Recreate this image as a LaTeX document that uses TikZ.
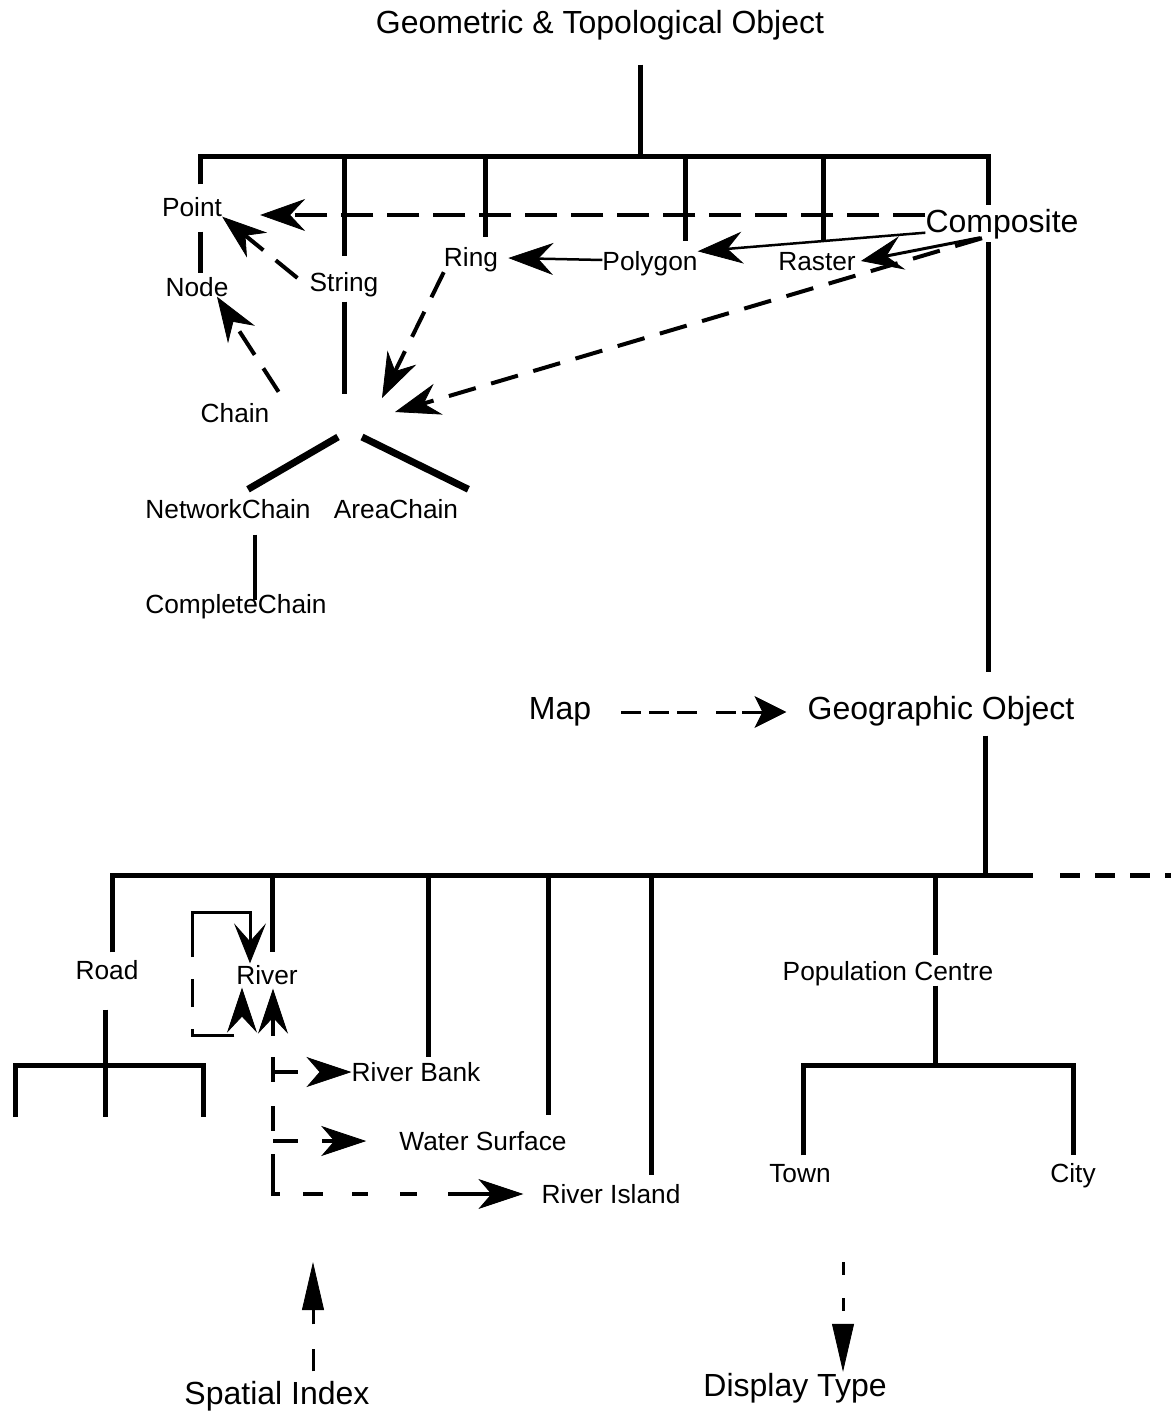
\documentclass[tikz,border=0pt]{standalone}
\usepackage{fontspec}
\setmainfont{Liberation Sans}
\usepackage{tikz}
\usetikzlibrary{arrows.meta, positioning}

\begin{document}
\begin{tikzpicture}[x=1pt, y=-1pt,
    cls/.style={inner sep=0pt, text height=19pt, text depth=0pt, font=\fontsize{26.3}{30}\selectfont},
    bigcls/.style={inner sep=0pt, text height=23pt, text depth=0pt, font=\fontsize{32}{38}\selectfont},
    tree/.style={line width=5pt},
    barb/.tip={Stealth[length=45pt, width=32pt, inset=15pt, line width=0.8pt]},
    dashlink/.style={line width=4pt, dash pattern=on 28pt off 16pt, -barb},
    solidlink/.style={line width=2.5pt, -barb},
    riverlink/.style={line width=3.5pt, dash pattern=on 25pt off 24pt, -{Stealth[length=45pt, width=30pt, inset=13pt, line width=0.8pt]}},
    pointer/.style={line width=3pt, -{Triangle[length=48pt, width=22pt, line width=0.8pt]}}]

  \useasboundingbox (0,0) rectangle (1171,1412);

  % classes
  \node[bigcls] (geotopo) at (600,22) {Geometric \& Topological Object};
  \node[cls] (point) at (192,207) {Point};
  \node[cls] (nodec) at (197,287) {Node};
  \node[cls] (string) at (344,282) {String};
  \node[cls] (ring) at (471,257) {Ring};
  \node[cls] (polygon) at (650,261) {Polygon};
  \node[cls] (raster) at (817,261) {Raster};
  \node[bigcls] (composite) at (1002,221) {Composite};
  \node[cls] (chain) at (235,413) {Chain};
  \node[cls] (netchain) at (228,509) {NetworkChain};
  \node[cls] (areachain) at (396,509) {AreaChain};
  \node[cls] (cchain) at (236,604) {CompleteChain};
  \node[bigcls] (map) at (560,708) {Map};
  \node[bigcls] (geoobj) at (941,708) {Geographic Object};
  \node[cls] (road) at (107,970) {Road};
  \node[cls] (river) at (267,975) {River};
  \node[cls] (bank) at (416,1072) {River Bank};
  \node[cls] (water) at (483,1141) {Water Surface};
  \node[cls] (island) at (611,1194) {River Island};
  \node[cls] (popcentre) at (888,971) {Population Centre};
  \node[cls] (town) at (800,1173) {Town};
  \node[cls] (city) at (1073,1173) {City};
  \node[bigcls] (spindex) at (277,1393) {Spatial Index};
  \node[bigcls] (disptype) at (795,1385) {Display Type};

  \coordinate (topbar) at (640,157);
  \coordinate (junction) at (350,437);
  \coordinate (geobar) at (985,875);
  \coordinate (popbar) at (935,1065);
  \coordinate (sifree) at (313,1262);
  \coordinate (dtfree) at (843,1262);

  % geometric tree
  \draw[tree, shorten <=31pt] (geotopo.south -| topbar) -- (topbar);
  \draw[tree] ([xshift=8pt,yshift=13pt]point.north) |- (988,157) -- ([xshift=-14pt,yshift=4.5pt]composite.north);
  \draw[tree] (string.north |- topbar) -- ([yshift=16pt]string.north);
  \draw[tree] ([xshift=14pt]ring.north |- topbar) -- ([xshift=14pt,yshift=10pt]ring.north);
  \draw[tree] ([xshift=35pt]polygon.north |- topbar) -- ([xshift=35pt,yshift=10pt]polygon.north);
  \draw[tree] ([xshift=6pt]raster.north |- topbar) -- ([xshift=6pt,yshift=11.5pt]raster.north);
  \draw[tree] ([xshift=8pt,yshift=-15pt]point.south) -- ([xshift=3pt,yshift=4pt]nodec.north);
  \draw[tree] ([yshift=-10pt]string.south) -- ++(0,92);
  \draw[tree] ([xshift=-14pt,yshift=-9.5pt]composite.south) -- ([xshift=47pt,yshift=24pt]geoobj.north);

  % chains
  \draw[line width=7pt] ([xshift=-12pt]junction) -- ([xshift=20pt,yshift=10pt]netchain.north);
  \draw[line width=7pt] ([xshift=12pt]junction) -- ([xshift=10pt,yshift=10pt]areachain.north east);
  \draw[line width=4pt] ([xshift=27pt,yshift=-16pt]netchain.south) -- ([xshift=19pt,yshift=4pt]cchain.center);

  % references
  \draw[dashlink, dash pattern=on 32pt off 14pt] ([yshift=6pt]composite.west) -- ([xshift=38pt,yshift=-8pt]point.east);
  \draw[dashlink] ([xshift=-12pt,yshift=4pt]string.west) -- (point.south east);
  \draw[dashlink] ([xshift=9pt,yshift=11.5pt]chain.north east) -- ([xshift=20pt]nodec.south);
  \draw[dashlink] ([yshift=-5.5pt]ring.south west) -- ([xshift=32pt,yshift=39pt]junction);
  \draw[dashlink] ([xshift=-20pt,yshift=-5.5pt]composite.south) -- ([xshift=45pt,yshift=25pt]junction);
  \draw[solidlink] ([yshift=1pt]polygon.west) -- ([xshift=10pt,yshift=-1pt]ring.east);
  \draw[solidlink] (composite.south west) -- (polygon.north east);
  \draw[line width=3pt, -{Stealth[length=42pt, width=34pt, inset=16pt, line width=0.8pt]}] ([xshift=-22pt,yshift=-5pt]composite.south) -- ([xshift=5pt]raster.east);

  % map
  \draw[line width=3pt, dash pattern=on 20pt off 8pt on 20pt off 8pt on 20pt off 19pt on 20pt off 6pt on 40pt,
    shorten <=30pt, shorten >=21pt,
    -{Stealth[length=32pt, width=32pt, inset=8pt, line width=0.8pt]}] ([yshift=-4pt]map.east) -- ([yshift=-4pt]geoobj.west);

  % geographic tree
  \draw[tree] ([xshift=44pt,yshift=-16pt]geoobj.south) -- (geobar);
  \draw[tree] ([xshift=5pt,yshift=8pt]road.north) |- (1033,875);
  \draw[tree, dash pattern=on 20pt off 15pt] (1060,875) -- (1171,875);
  \draw[tree] ([xshift=5pt]river.north |- geobar) -- ([xshift=5pt,yshift=13pt]river.north);
  \draw[tree] ([xshift=12pt]bank.north |- geobar) -- ([xshift=12pt,yshift=5pt]bank.north);
  \draw[tree] ([xshift=65pt]water.north |- geobar) -- ([xshift=65pt,yshift=16.5pt]water.north);
  \draw[tree] ([xshift=40pt]island.north |- geobar) -- ([xshift=40pt,yshift=9.5pt]island.north);
  \draw[tree] ([xshift=47pt]popcentre.north |- geobar) -- ([xshift=47pt,yshift=6.5pt]popcentre.north);
  \draw[tree] ([xshift=-2pt,yshift=-30pt]road.south) -- (105,1117);
  \draw[tree] (15,1117) |- (203,1065) -- (203,1117);
  \draw[tree] ([xshift=47pt,yshift=-5pt]popcentre.south) -- (popbar);
  \draw[tree] ([xshift=3pt,yshift=8pt]town.north) |- (city.north |- popbar) -- ([yshift=8pt]city.north);

  % river parts
  \draw[line width=3pt, dash pattern=on 0pt off 27pt on 49pt off 22pt on 28pt off 22pt on 200pt,
    {Stealth[length=45pt, width=30pt, inset=16pt, line width=0.8pt]}-{Stealth[length=40pt, width=32pt, inset=18pt, line width=0.8pt]}]
    ([xshift=-25pt,yshift=-3pt]river.south) -- ++(0,48) -| ++(-50,-123) -| ([xshift=-17pt,yshift=2pt]river.north);
  \draw[riverlink, {Stealth[length=45pt, width=30pt, inset=16pt, line width=0.8pt]}-{Stealth[length=45pt, width=30pt, inset=13pt, line width=0.8pt]},
    dash pattern=on 19pt off 21pt on 25pt off 24pt on 25pt off 23pt on 47pt off 23pt on 20pt off 29pt on 16pt off 32pt on 17pt off 31pt on 60pt]
    ([xshift=6pt,yshift=-4pt]river.south) |- ([xshift=-18pt]island.west);
  \draw[riverlink] ([xshift=6pt]river.south |- bank.west) -- (bank.west);
  \draw[riverlink] ([xshift=6pt]river.south |- water.west) -- ([xshift=-33pt]water.west);

  % index and display
  \draw[pointer, dash pattern=on 22pt off 25pt] ([xshift=36pt,yshift=10pt]spindex.north) -- (sifree);
  \draw[pointer, dash pattern=on 13pt off 23pt] (dtfree) -- ([xshift=48pt,yshift=1.5pt]disptype.north);
\end{tikzpicture}
\end{document}
